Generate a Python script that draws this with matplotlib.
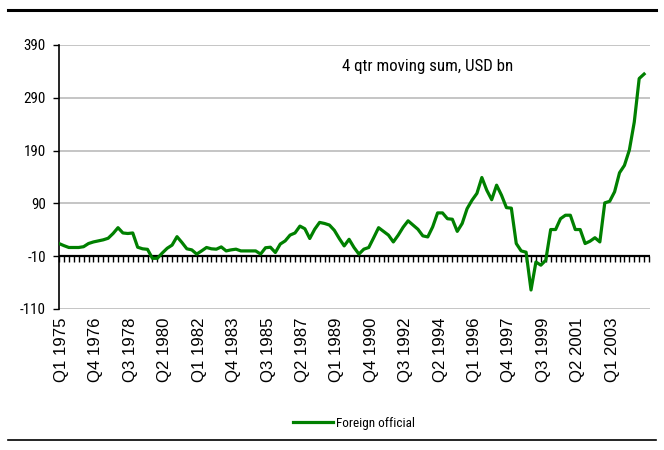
import numpy as np
import matplotlib
matplotlib.use('Agg')
import matplotlib.pyplot as plt
import matplotlib.transforms as mtransforms
from matplotlib import font_manager as fm
from matplotlib.lines import Line2D

# quarterly data, Q1 1975 .. Q4 2004 (4 qtr moving sum, USD bn)
years = list(range(1975, 2005))
quarters = ['Q%d %d' % (q, y) for y in years for q in (1, 2, 3, 4)]
foreign_official = [
    14, 10, 6.5, 6.5, 6.5, 8, 14, 17, 19, 21,
    24, 33, 44, 34, 33, 34, 7, 4, 3, -14,
    -14, -4, 5, 11, 27, 16, 4, 2, -6, 0,
    6.5, 4, 3.3, 7.6, 0, 2, 3.3, 0, 0, 0,
    0, -6, 6, 7, -3, 13, 19, 30, 34, 47,
    42, 23.5, 41, 54, 52, 49, 39, 23.5, 9.5, 22,
    6.5, -6, 3.3, 6.5, 25, 44, 37, 30, 17, 30,
    45, 57, 49, 41, 28.5, 26.5, 45.5, 72, 72, 61,
    60, 37, 52, 80, 96, 109, 139, 115, 97, 124.5,
    105.5, 82, 81, 14, 0, -2.4, -74, -21, -27, -17.6,
    40.5, 40.5, 61, 67.6, 67.6, 40.5, 40.5, 14, 18.4, 25,
    17, 91, 94, 112, 148, 162, 191, 244, 326.5, 335,
]
yticks = [-110, -10, 90, 190, 290, 390]
label_step = 7

ttf = fm.fontManager.ttflist


def narrow_props():
    # some condensed sans face, Arial Narrow style
    names = {f.name for f in ttf}
    for n in ['Liberation Sans Narrow', 'Arial Narrow', 'Roboto Condensed',
              'Open Sans Condensed', 'Noto Sans Condensed']:
        if n in names:
            return fm.FontProperties(family=n)
    for f in ttf:
        fn = f.fname.lower()
        if ('condensed' in fn or 'narrow' in fn) and 'bold' not in fn \
                and 'oblique' not in fn and 'italic' not in fn:
            return fm.FontProperties(fname=f.fname)
    return fm.FontProperties(family='Liberation Sans')


def regular_props():
    return fm.FontProperties(family=['Liberation Sans', 'Arial', 'DejaVu Sans'])


fig = plt.figure(figsize=(6.64, 4.5), dpi=100)
renderer = fig.canvas.get_renderer()


def fit_size(fp, text, target_px, start=12.0):
    # font size that makes the string target_px long
    fp = fp.copy()
    fp.set_size(start)
    t = fig.text(0, 0, text, fontproperties=fp)
    w = t.get_window_extent(renderer).width
    t.remove()
    return start * target_px / w


ax = fig.add_axes([59 / 664, 1 - 309 / 450, (650 - 59) / 664, (309 - 45) / 450])

x = np.arange(len(foreign_official))
ax.plot(x, foreign_official, color='#008000', lw=2.3, solid_joinstyle='round',
        label='Foreign official', zorder=3)

ax.set_ylim(-110, 390)
ax.set_xlim(0, 120.2)
ax.set_yticks(yticks)
ax.set_yticklabels([str(v) for v in yticks])
nar = narrow_props()
ysize = fit_size(nar, '390', 22)
for lab in ax.get_yticklabels():
    fp = nar.copy()
    fp.set_size(ysize)
    lab.set_fontproperties(fp)
for v in yticks:
    if v != -10:
        ax.axhline(v, color='#c0c0c0', lw=1.3, zorder=1)

for s in ['top', 'right', 'bottom']:
    ax.spines[s].set_visible(False)
ax.spines['left'].set_linewidth(1.2)

# category axis crosses at -10
ax.axhline(-10, color='black', lw=1.6, zorder=2)
ax.set_xticks(np.arange(0, 121))
ax.set_xticklabels([])
ax.spines['bottom'].set_position(('data', -10))
ax.tick_params(axis='x', direction='out', length=4.5, width=1, pad=0)
ax.tick_params(axis='y', direction='out', length=4.5, width=1, pad=5)

reg = regular_props()
reg.set_size(fit_size(reg, 'Q1 1975', 64))
trans = mtransforms.blended_transform_factory(ax.transData, ax.transAxes)
off = mtransforms.ScaledTranslation(2.5 / 100, -9 / 100, fig.dpi_scale_trans)
for i in range(0, 113, label_step):
    ax.text(i, 0, quarters[i], rotation=90, ha='center', va='top',
            fontproperties=reg, transform=trans + off)

note = '4 qtr moving sum, USD bn'
fp_note = nar.copy()
fp_note.set_size(fit_size(nar, note, 171))
fig.text(342 / 664, 1 - 66 / 450, note, fontproperties=fp_note,
         ha='left', va='center')

fp_leg = nar.copy()
fp_leg.set_size(fit_size(nar, 'Foreign official', 79))
leg_px = fp_leg.get_size_in_points() * 100 / 72
fig.legend(loc='center', bbox_to_anchor=(354 / 664, 1 - 423 / 450), frameon=False,
           prop=fp_leg, handlelength=40 / leg_px, handletextpad=4 / leg_px)

fig.add_artist(Line2D([8 / 664, 656 / 664], [1 - 10 / 450] * 2, color='black', lw=2.2))
fig.add_artist(Line2D([8 / 664, 656 / 664], [1 - 440 / 450] * 2, color='black', lw=1.2))

fig.savefig('out.png', dpi=100)
